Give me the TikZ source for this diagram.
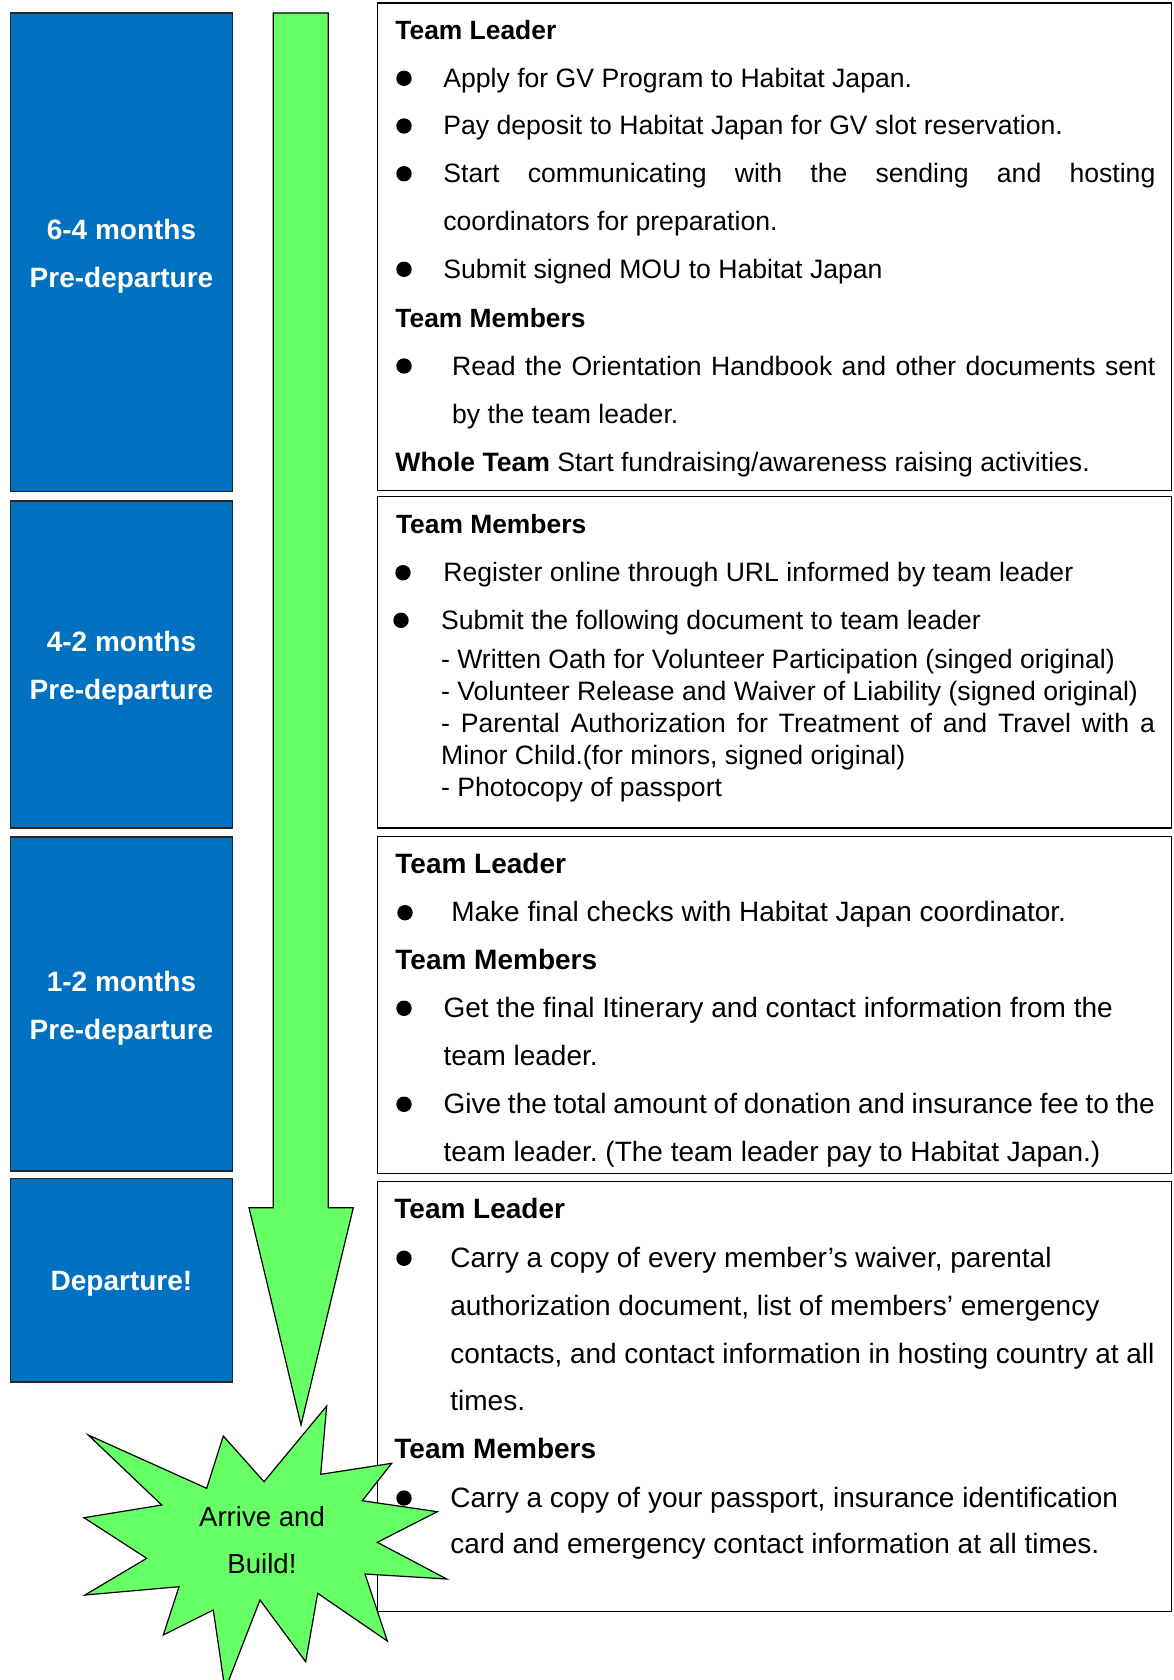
\documentclass[tikz,border=0pt]{standalone}
\usepackage{fontspec}
\setmainfont{Liberation Sans}
\frenchspacing
\definecolor{hjblue}{HTML}{0070C0}
\definecolor{hjgreen}{HTML}{66FF66}
\tikzset{
	period/.style={fill=hjblue,draw=black!85,line width=0.7pt,minimum width=110.8pt,inner sep=0pt},
	periodtxt/.style={text=white,align=center,inner sep=0pt,
		font=\bfseries\fontsize{14}{24}\selectfont},
	panel/.style={draw=black,line width=0.7pt},
	txt/.style={anchor=base west,inner sep=0pt,font=\fontsize{13.3}{16}\selectfont},
	hd/.style={txt,font=\bfseries\fontsize{13.2}{16}\selectfont},
	txtl/.style={txt,font=\fontsize{14}{16}\selectfont},
	hdl/.style={txt,font=\bfseries\fontsize{14}{16}\selectfont},
	startxt/.style={anchor=base,inner sep=0pt,font=\fontsize{13.8}{16}\selectfont},
}
\begin{document}
\begin{tikzpicture}[x=0.5pt,y=-0.5pt,line join=miter]
	\useasboundingbox (0,0) rectangle (1173,1680);
	% periods
	\node[period,minimum height=239.4pt] (p1) at (121.5,252.3) {};
	\node[period,minimum height=163.5pt] (p2) at (121.5,664.5) {};
	\node[period,minimum height=167pt] (p3) at (121.5,1004) {};
	\node[period,minimum height=101.85pt] (p4) at (121.5,1280.2) {};
	\node[periodtxt] (t1) at ([yshift=-2pt]p1) {6-4 months\\Pre-departure};
	\node[periodtxt] (t2) at ([yshift=-2pt]p2) {4-2 months\\Pre-departure};
	\node[periodtxt] (t3) at ([yshift=-2pt]p3) {1-2 months\\Pre-departure};
	\node[periodtxt] (t4) at ([yshift=-2pt]p4) {Departure!};
	% arrow
	\draw[fill=hjgreen,line width=0.6pt] (273.3,13)--(328.3,13)--(328.3,1207.7)--(353.3,1207.7)
		--(301,1425)--(249,1207.7)--(273.3,1207.7)--cycle;
	% panels
	\draw[panel] (377.3,3) rectangle (1171.5,490.7);
	\draw[panel] (377.3,496.7) rectangle (1171.5,828);
	\draw[panel] (377.3,836.7) rectangle (1171.5,1173.3);
	\draw[panel] (377.3,1181.7) rectangle (1171.5,1611.6);
	% star
	\draw[fill=hjgreen,line width=0.6pt] (326.7,1406)--(320.7,1474.3)--(391.7,1463.3)--(362.3,1500.7)
		--(437.3,1511.7)--(377.3,1542.3)--(446.7,1579)--(365,1574)--(387.3,1641)--(317.7,1593.3)
		--(305.7,1661.7)--(260,1600)--(225,1690)--(213.3,1610)--(163.3,1635)--(179,1586.7)
		--(85,1595)--(146.7,1558.3)--(84,1517.7)--(161.7,1505)--(88.3,1435)--(206.7,1488.3)
		--(223.3,1436)--(264,1481.7)--cycle;
	\node[startxt] (arrive) at (262,1526) {Arrive and};
	\node[startxt] (build) at (262,1573.3) {Build!};
	% bullets
	\foreach \x/\y in {404/78.3,404/126,404/173.7,404/269.3,404/366,403/572.7,401/620.3,
		405/912.7,404/1008.3,404/1104.3,404/1258.2,404/1498}{
		\fill (\x,\y) circle(3.85pt);
	}
	% panel 1
	\node[hd] (ha1) at (395,39.3) {Team Leader};
	\node[hd] (ha2) at (395,327.3) {Team Members};
	\foreach \x/\y/\t [count=\i] in {
		443/87.3/{Apply for GV Program to Habitat Japan.},
		443/135/{Pay deposit to Habitat Japan for GV slot reservation.},
		443/182.7/{\makebox[356pt][s]{Start communicating with the sending and hosting}},
		443/230.7/{coordinators for preparation.},
		443/278.3/{Submit signed MOU to Habitat Japan},
		451.7/375/{\makebox[351.7pt][s]{Read the Orientation Handbook and other documents sent}},
		451.7/423/{by the team leader.}}{
		\node[txt] (a\i) at (\x,\y) {\t};
	}
	\node[txt] (a8) at (395,471) {\textbf{Whole Team} Start fundraising/awareness raising activities.};
	% panel 2
	\node[hd] (hb1) at (395.6,533.3) {Team Members};
	\foreach \x/\y/\t [count=\i] in {
		443/581.7/{Register online through URL informed by team leader},
		440.7/629.3/{Submit the following document to team leader},
		440.7/668.5/{- Written Oath for Volunteer Participation (singed original)},
		440.7/700.5/{- Volunteer Release and Waiver of Liability (signed original)},
		440.7/732.5/{\makebox[356.9pt][s]{- Parental Authorization for Treatment of and Travel with a}},
		440.7/764.5/{Minor Child.(for minors, signed original)},
		440.7/796.5/{- Photocopy of passport}}{
		\node[txt] (b\i) at (\x,\y) {\t};
	}
	% panel 3
	\node[hdl] (hc1) at (395,873.3) {Team Leader};
	\node[hdl] (hc2) at (395,969.3) {Team Members};
	\foreach \x/\y/\t [count=\i] in {
		450.9/921.7/{Make final checks with Habitat Japan coordinator.},
		443.2/1017.3/{Get the final Itinerary and contact information from the},
		443.2/1065/{team leader.},
		443.2/1113.3/{\makebox[355.6pt][s]{Give the total amount of donation and insurance fee to the}},
		443.2/1161.7/{team leader. (The team leader pay to Habitat Japan.)}}{
		\node[txtl] (c\i) at (\x,\y) {\t};
	}
	% panel 4
	\node[hdl] (hd1) at (394,1218.4) {Team Leader};
	\node[hdl] (hd2) at (394,1458.9) {Team Members};
	\foreach \x/\y/\t [count=\i] in {
		450/1267.2/{Carry a copy of every member’s waiver, parental},
		450/1315.7/{authorization document, list of members’ emergency},
		450/1363.4/{\makebox[352pt][s]{contacts, and contact information in hosting country at all}},
		450/1410.8/{times.},
		450/1507/{Carry a copy of your passport, insurance identification},
		450/1553.2/{card and emergency contact information at all times.}}{
		\node[txtl] (d\i) at (\x,\y) {\t};
	}
\end{tikzpicture}
\end{document}
